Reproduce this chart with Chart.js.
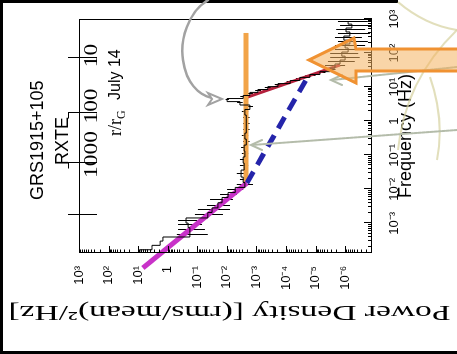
<!DOCTYPE html>
<html><head><meta charset="utf-8">
<script src="https://cdn.jsdelivr.net/npm/chart.js@4"></script>
<style>
html,body{margin:0;padding:0;background:#fff;overflow:hidden;width:457px;height:354px;}
#wrap{position:absolute;left:0;top:0;width:354px;height:457px;transform-origin:0 0;transform:translate(0px,354px) rotate(-90deg);}
canvas{display:block;}
</style></head><body>
<div id="wrap"><canvas id="c" width="354" height="457"></canvas></div>
<script>
// ---- data (frequency in Hz, power in (rms/mean)^2/Hz)
const freq = [1.45e-4,1.95e-4,2.63e-4,3.47e-4,4.57e-4,6.31e-4,8.91e-4,1.17e-3,1.78e-3,2.45e-3,3.31e-3,4.90e-3,6.76e-3,9.55e-3,1.35e-2,1.86e-2,2.82e-2,4.79e-2,7.24e-2,0.110,0.162,0.245,0.363,0.550,0.832,1.23,1.86,2.63,3.39,4.17,5.13,6.31,7.76,9.33,11.5,14.1,17.4,21.4,25.7,31.6,41.7,55.0,70.8,93.3,123,162,209,275,363,479,617,813];
const power = [8.7,3.4,1.8,1.45,0.178,0.178,0.204,0.24,0.044,0.0316,0.020,0.0145,0.0091,0.0052,0.00245,0.0028,0.0033,0.0026,0.0028,0.00245,0.0026,0.0022,0.00245,0.0022,0.0022,0.0022,0.00245,0.00166,0.0036,0.0098,0.0028,0.00166,8.9e-4,4.1e-4,1.86e-4,7.2e-5,3.4e-5,1.55e-5,7.1e-6,3.2e-6,2.2e-6,1.48e-6,1.0e-6,1.29e-6,7.9e-7,1.0e-6,6.9e-7,1.1e-6,6.9e-7,9.3e-7,5.9e-7,7.9e-7];
const powerHi = [8.7,3.4,1.8,1.45,0.49,0.447,0.447,0.447,0.12,0.095,0.047,0.037,0.017,0.0098,0.0046,0.0036,0.0046,0.0036,0.0036,0.0031,0.0033,0.0028,0.0031,0.0028,0.0028,0.0028,0.0031,0.0021,0.0045,0.0110,0.0035,0.0021,1.1e-3,5.2e-4,2.4e-4,9.5e-5,4.6e-5,2.2e-5,1.0e-5,4.6e-6,4.8e-6,3.8e-6,3.2e-6,3.2e-6,2.2e-6,2.2e-6,1.74e-6,2.2e-6,1.74e-6,2.0e-6,1.48e-6,1.74e-6];
const powerLo = [8.7,3.4,1.8,1.45,0.044,0.055,0.069,0.102,0.0135,0.0078,0.0078,0.0062,0.0046,0.0028,0.0013,0.0021,0.00245,0.0019,0.0021,0.0019,0.0020,0.0017,0.0019,0.0017,0.0017,0.0017,0.0019,0.0013,0.0029,0.0085,0.0022,0.0013,7.0e-4,3.1e-4,1.4e-4,5.2e-5,2.4e-5,1.0e-5,4.6e-6,2.1e-6,1.0e-6,4.7e-7,3.2e-7,3.6e-7,2.7e-7,2.1e-7,1.7e-7,2.7e-7,1.45e-7,2.1e-7,1.2e-7,1.7e-7];
// model lines
const magentaLine = [{x:4.9e-5,y:6.9},{x:0.0153,y:0.0021}];
const blueLine    = [{x:0.0153,y:0.0021},{x:16.3,y:2.1e-5}];
const orangeLine  = [{x:0.0153,y:0.00224},{x:389,y:0.00224}];
const redLine     = [{x:4.8,y:0.00245},{x:44.7,y:1.48e-6}];
// axes
const freqTicks = [1e-3,1e-2,1e-1,1,10,100,1000];
const freqTickLabels = ['10\u207B\u00B3','10\u207B\u00B2','10\u207B\u00B9','1','10\u00B9','10\u00B2','10\u00B3'];
const powerTicks = [1e-6,1e-5,1e-4,1e-3,1e-2,1e-1,1,10,100,1000];
const powerTickLabels = ['10\u207B\u2076','10\u207B\u2075','10\u207B\u2074','10\u207B\u00B3','10\u207B\u00B2','10\u207B\u00B9','1','10\u00B9','10\u00B2','10\u00B3'];
// r/rG top axis: radii and the frequency they sit at
const rTicks = [10,100,1000,10000];
const rTickLabels = ['10','100','1000',''];
const rTickFreq = [71.6,1.74,0.0592,0.00176];
const powerTitle = 'Power Density [(rms/mean)\u00B2/Hz]';

const W = 354; // canvas width in the un-rotated frame (= displayed height)
function disp(ctx){ ctx.setTransform(0,1,-1,0,W,0); }
function stretchText(ctx, txt, cx, baseline, sx){
  ctx.save(); ctx.translate(cx, baseline); ctx.scale(sx,1); ctx.textAlign='center'; ctx.fillText(txt,0,0); ctx.restore();
}

const deco = {
  id:'deco',
  beforeDatasetsDraw(chart){
    const {ctx, scales:{x,y}, chartArea:a} = chart;
    ctx.save();
    ctx.beginPath(); ctx.rect(a.left,a.top,a.right-a.left,a.bottom-a.top); ctx.clip();
    ctx.strokeStyle='#000'; ctx.lineWidth=1;
    ctx.beginPath();
    for(let i=0;i<freq.length;i++){
      if(powerHi[i]===powerLo[i]) continue;
      const px=Math.round(x.getPixelForValue(freq[i]))+0.5;
      ctx.moveTo(px,y.getPixelForValue(powerHi[i]));
      ctx.lineTo(px,y.getPixelForValue(powerLo[i]));
    }
    ctx.stroke();
    ctx.restore();
  },
  afterDraw(chart){
    const {ctx, scales:{x,y}, chartArea:a} = chart;
    ctx.save();
    ctx.strokeStyle='#000'; ctx.lineWidth=1;
    ctx.strokeRect(a.left+0.5,a.top+0.5,a.right-a.left-1,a.bottom-a.top-1);
    ctx.beginPath();
    for(let d=-4; d<=3; d++){ for(let k=1;k<=9;k++){ const v=k*Math.pow(10,d); if(v<x.min||v>x.max) continue;
      const px=Math.round(x.getPixelForValue(v))+0.5; ctx.moveTo(px,a.bottom); ctx.lineTo(px,a.bottom-(k===1?8:4)); } }
    for(let d=-7; d<=3; d++){ for(let k=1;k<=9;k++){ const v=k*Math.pow(10,d); if(v<y.min||v>y.max) continue;
      const py=Math.round(y.getPixelForValue(v))+0.5; ctx.moveTo(a.left,py); ctx.lineTo(a.left+(k===1?7:3.5),py); } }
    ctx.stroke();
    // r/rG axis along the top
    ctx.beginPath();
    rTickFreq.forEach((f)=>{ const px=Math.round(x.getPixelForValue(f))+0.5; ctx.moveTo(px,a.top-11); ctx.lineTo(px,a.top+18); });
    // RXTE bracket legs
    const p100=Math.round(x.getPixelForValue(rTickFreq[1]))+0.5, p1000=Math.round(x.getPixelForValue(rTickFreq[2]))+0.5;
    ctx.moveTo(p100,a.top-10.5); ctx.lineTo(p100-6,a.top-10.5);
    ctx.moveTo(p1000,a.top-10.5); ctx.lineTo(p1000-6,a.top-10.5);
    ctx.stroke();
    ctx.fillStyle='#000';
    ctx.font='18px "Liberation Serif"'; ctx.textBaseline='alphabetic';
    const off=[2.5,7,8.5,0];
    rTickFreq.forEach((f,i)=>{ if(rTickLabels[i]) stretchText(ctx, rTickLabels[i], x.getPixelForValue(f)+off[i], a.top+18, 1.3); });
    ctx.textAlign='left';
    ctx.font='18px "Liberation Serif"';
    ctx.fillText('r/r',218,a.top+42);
    const w=ctx.measureText('r/r').width;
    ctx.font='12px "Liberation Serif"';
    ctx.fillText('G',218+w,a.top+46);
    ctx.font='16px "Liberation Sans"';
    ctx.fillText('July 14',254,a.top+41);
    ctx.font='18px "Liberation Sans"';
    ctx.fillText('GRS1915+105',154,43);
    ctx.fillText('RXTE',189,68);
    // y-axis title (stretched serif, reads bottom-to-top in this frame)
    ctx.save();
    ctx.translate(48, (a.top+a.bottom)/2+4);
    ctx.rotate(-Math.PI/2);
    ctx.font='22px "Liberation Serif"';
    const tw=ctx.measureText(powerTitle).width;
    ctx.scale(442/tw,1);
    ctx.textAlign='center'; ctx.textBaseline='alphabetic';
    ctx.fillText(powerTitle,0,0);
    ctx.restore();
    ctx.restore();

    // decorations in the displayed (rotated) frame
    ctx.save();
    disp(ctx);
    ctx.fillStyle='#000';
    ctx.fillRect(0,0,398,3);
    ctx.fillRect(0,0,3,354);
    ctx.fillRect(0,351,457,3);
    ctx.strokeStyle='rgba(214,210,160,0.7)'; ctx.lineWidth=2;
    ctx.beginPath(); ctx.moveTo(398,2); ctx.quadraticCurveTo(425,25,457,30); ctx.stroke();
    ctx.beginPath(); ctx.moveTo(457,30); ctx.quadraticCurveTo(405,80,398,150); ctx.stroke();
    ctx.beginPath(); ctx.moveTo(430,77); ctx.quadraticCurveTo(445,120,437,160); ctx.stroke();
    ctx.strokeStyle='#a2a2a2'; ctx.lineWidth=2.5; ctx.lineCap='round';
    ctx.beginPath(); ctx.moveTo(208,0); ctx.bezierCurveTo(188,12,180,40,183,60); ctx.bezierCurveTo(186,82,198,95,212,98); ctx.stroke();
    ctx.lineWidth=2; ctx.fillStyle='#fff';
    ctx.beginPath(); ctx.moveTo(222,99); ctx.lineTo(208,93); ctx.lineTo(212,99); ctx.lineTo(208,105); ctx.closePath(); ctx.fill(); ctx.stroke();
    ctx.strokeStyle='#b4bcaa'; ctx.lineWidth=2; ctx.setLineDash([3,1]);
    ctx.beginPath(); ctx.moveTo(457,130); ctx.lineTo(252,145); ctx.stroke();
    ctx.beginPath(); ctx.moveTo(457,67); ctx.lineTo(332,80); ctx.stroke();
    ctx.setLineDash([]);
    ctx.beginPath(); ctx.moveTo(262,140); ctx.lineTo(251,145); ctx.lineTo(262,150); ctx.stroke();
    ctx.beginPath(); ctx.moveTo(342,75); ctx.lineTo(331,80); ctx.lineTo(342,85); ctx.stroke();
    ctx.beginPath();
    ctx.moveTo(460,49); ctx.lineTo(356,49); ctx.lineTo(354,38); ctx.lineTo(309,60); ctx.lineTo(356,83); ctx.lineTo(356,71); ctx.lineTo(460,71);
    ctx.closePath();
    ctx.fillStyle='rgba(244,178,96,0.55)'; ctx.fill();
    ctx.strokeStyle='#f09232'; ctx.lineWidth=3; ctx.lineJoin='miter'; ctx.stroke();
    ctx.restore();
  }
};

new Chart(document.getElementById('c'), {
  type:'line',
  data:{ datasets:[
    {data:freq.map((f,i)=>({x:f,y:power[i]})), borderColor:'#000', borderWidth:1, stepped:'middle', pointRadius:0},
    {data:magentaLine, borderColor:'#c832c8', borderWidth:5, pointRadius:0, clip:false},
    {data:blueLine, borderColor:'#2424aa', borderWidth:5, borderDash:[13,8], pointRadius:0},
    {data:orangeLine, borderColor:'#f2a448', borderWidth:5, pointRadius:0},
    {data:redLine, borderColor:'#b4203c', borderWidth:3, pointRadius:0}
  ]},
  options:{
    responsive:false, animation:false,
    layout:{padding:{top:79,right:19,left:0,bottom:0}},
    plugins:{legend:{display:false}, tooltip:{enabled:false}},
    scales:{
      x:{ type:'logarithmic', position:'bottom', min:Math.pow(10,-3.87), max:1000,
        afterBuildTicks:s=>{ s.ticks=freqTicks.map(v=>({value:v})); },
        afterFit:s=>{ s.height=85; },
        grid:{display:false}, border:{display:false},
        ticks:{ autoSkip:false, maxRotation:0, padding:7, color:'#000', font:{family:'"Liberation Sans"', size:13},
          callback:(v)=>{ const i=freqTicks.indexOf(v); return i>=0?freqTickLabels[i]:''; } },
        title:{ display:true, text:'Frequency (Hz)', color:'#000', font:{family:'"Liberation Sans"', size:18}, padding:{top:0,bottom:40} }
      },
      y:{ type:'logarithmic', position:'left', min:Math.pow(10,-6.91), max:1000,
        afterBuildTicks:s=>{ s.ticks=powerTicks.map(v=>({value:v})); },
        afterFit:s=>{ s.width=101; },
        grid:{display:false}, border:{display:false},
        ticks:{ autoSkip:false, padding:5, color:'#000', font:{family:'"Liberation Sans"', size:13},
          callback:(v)=>{ const i=powerTicks.indexOf(v); return i>=0?powerTickLabels[i]:''; } },
        title:{ display:false }
      }
    }
  },
  plugins:[deco]
});
</script></body></html>
